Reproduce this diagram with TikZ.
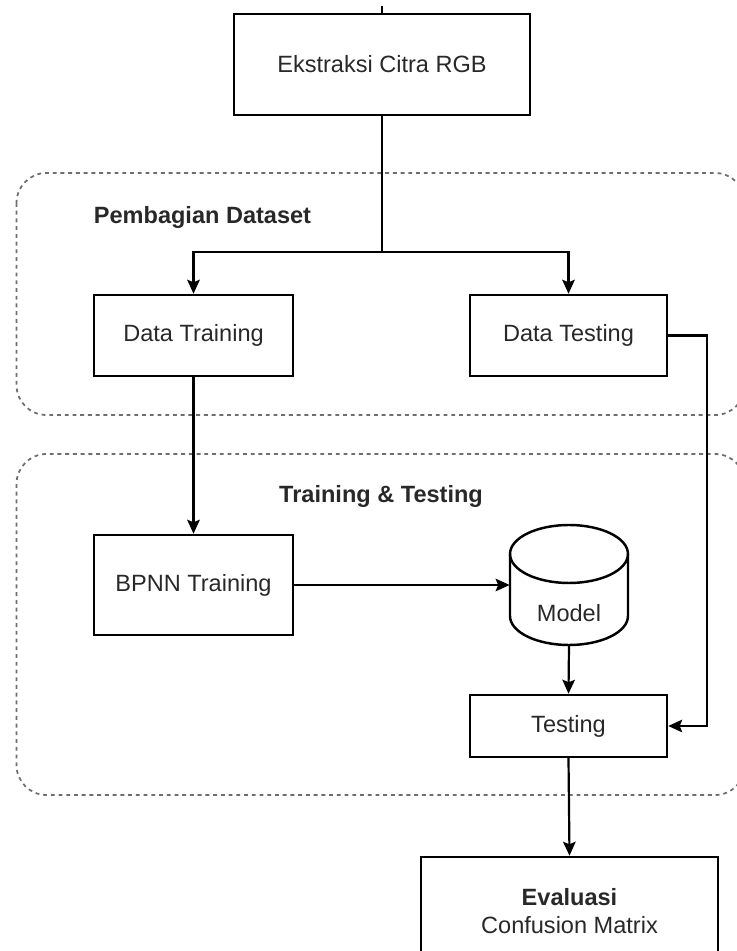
\documentclass[tikz,border=0pt]{standalone}
\usepackage{fontspec}
\setmainfont{Liberation Sans}
\usetikzlibrary{arrows.meta}
\definecolor{txt}{RGB}{40,40,40}
\definecolor{grp}{RGB}{110,110,110}
\begin{document}
\begin{tikzpicture}[x=0.02cm,y=0.02cm,
 every node/.style={font=\fontsize{13.4}{15.9}\selectfont, text=txt},
 lbl/.style={font=\fontsize{13.4}{15.9}\selectfont\bfseries},
 proc/.style={draw=black, line width=1.4pt, rectangle, align=center, inner sep=0pt},
 arr/.style={line width=1.25pt, -{Stealth[length=0.28cm,width=0.25cm,inset=0.05cm]}},
 conn/.style={line width=1.25pt},
 group/.style={draw=grp, line width=1pt, dash pattern=on 2.2pt off 2.2pt, rounded corners=0.6cm}]
\useasboundingbox (0,0) rectangle (737,951);
\clip (0,0) rectangle (737,951);
% groups
\draw[group] (16.5,778) rectangle (745,536);
\draw[group] (16.5,497) rectangle (745,156);
\node[lbl] (lbl1) at (202.5,734) {Pembagian Dataset};
\node[lbl] (lbl2) at (381,455) {Training \& Testing};
% nodes
\node[proc, minimum width=5.93cm, minimum height=2.02cm] (ext) at (382,886.5) {Ekstraksi Citra RGB};
\coordinate (tick) at (382,945);
\draw[conn] (tick) -- (ext.north);
\node[proc, minimum width=3.98cm, minimum height=1.62cm] (dtr) at (193.5,615.5) {Data Training};
\node[proc, minimum width=3.94cm, minimum height=1.62cm] (dte) at (568.5,615.5) {Data Testing};
\coordinate (split) at (382,699);
\draw[conn] (ext.south) -- (split);
\draw[arr] (split) -| (dtr.north);
\draw[arr] (split) -| (dte.north);
\node[proc, minimum width=3.98cm, minimum height=2.0cm] (bpnn) at (193.5,366) {BPNN Training};
\node[minimum width=2.36cm, minimum height=2.4cm, inner sep=0pt] (model) at (569,366) {};
\draw[line width=1.4pt] (569,397) ellipse [x radius=1.18cm, y radius=0.58cm];
\draw[line width=1.4pt] (510,397) -- (510,335) arc[start angle=180,end angle=360,x radius=1.18cm,y radius=0.58cm] -- (628,397);
\node (modeltxt) at (569,338) {Model};
\node[proc, minimum width=3.94cm, minimum height=1.24cm] (test) at (568.5,225) {Testing};
\node[proc, minimum width=5.94cm, minimum height=2.16cm] (eval) at (569.5,40) {\textbf{Evaluasi}\\Confusion Matrix};
% connectors
\draw[arr] (dtr.south) -- (bpnn.north);
\draw[arr] (bpnn.east) -- (model.west);
\draw[arr] (model.south) -- (test.north);
\draw[arr] (dte.east) -- ++(38.5,0) |- (test.east);
\draw[arr] (test.south) -- (eval.north);
\end{tikzpicture}
\end{document}
